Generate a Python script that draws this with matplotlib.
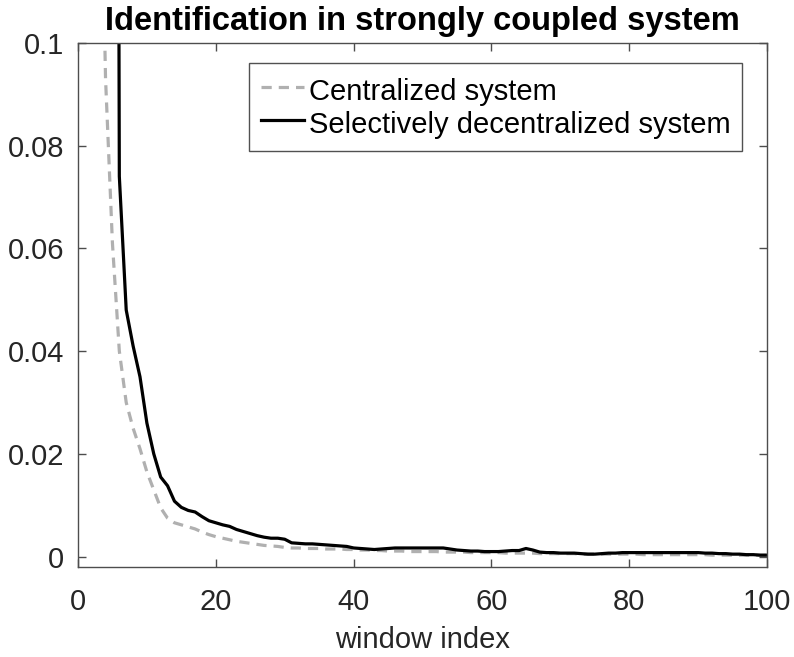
import matplotlib
matplotlib.use("Agg")
import matplotlib.pyplot as plt
from matplotlib.ticker import FuncFormatter

plt.rcParams['font.family'] = ['Liberation Sans', 'DejaVu Sans']

window = list(range(1, 101))

centralized = [
    0.90, 0.45, 0.16, 0.093, 0.061, 0.040, 0.030, 0.025, 0.021, 0.0165,
    0.013, 0.0095, 0.0075, 0.0066, 0.0062, 0.0058, 0.0054, 0.0048, 0.0043, 0.0039,
    0.0036, 0.0033, 0.0030, 0.0028, 0.0026, 0.0024, 0.0022, 0.0021, 0.0020, 0.0018,
    0.0017, 0.0017, 0.0016, 0.0016, 0.0016, 0.0015, 0.0015, 0.0015, 0.0014, 0.0014,
    0.0013, 0.0013, 0.0012, 0.0012, 0.0011, 0.0011, 0.0011, 0.0010, 0.0010, 0.0010,
    0.0010, 0.0010, 0.0009, 0.0009, 0.0009, 0.0009, 0.0008, 0.0008, 0.0008, 0.0008,
    0.0008, 0.0007, 0.0007, 0.0007, 0.0007, 0.0007, 0.0006, 0.0006, 0.0006, 0.0006,
    0.0006, 0.0006, 0.0005, 0.0005, 0.0005, 0.0005, 0.0005, 0.0005, 0.0005, 0.0005,
    0.0005, 0.0004, 0.0004, 0.0004, 0.0004, 0.0004, 0.0004, 0.0004, 0.0004, 0.0004,
    0.0004, 0.0003, 0.0003, 0.0003, 0.0003, 0.0003, 0.0003, 0.0003, 0.0003, 0.0003,
]

decentralized = [
    2.0, 1.2, 0.9, 0.75, 0.60, 0.074, 0.048, 0.041, 0.035, 0.026,
    0.020, 0.0155, 0.0138, 0.0108, 0.0096, 0.0090, 0.0087, 0.0078, 0.0070, 0.0066,
    0.0062, 0.0059, 0.0053, 0.0049, 0.0045, 0.0041, 0.0038, 0.0036, 0.0036, 0.0034,
    0.0027, 0.0026, 0.0025, 0.0025, 0.0024, 0.0023, 0.0022, 0.0021, 0.0020, 0.0017,
    0.0016, 0.0015, 0.0014, 0.0015, 0.0016, 0.0017, 0.0017, 0.0017, 0.0017, 0.0017,
    0.0017, 0.0017, 0.0017, 0.0015, 0.0013, 0.0012, 0.0011, 0.0011, 0.0010, 0.0010,
    0.0010, 0.0011, 0.0012, 0.0012, 0.0016, 0.0013, 0.0009, 0.0008, 0.0008, 0.0007,
    0.0007, 0.0007, 0.0006, 0.0005, 0.0005, 0.0006, 0.0007, 0.0007, 0.0008, 0.0008,
    0.0008, 0.0008, 0.0008, 0.0008, 0.0008, 0.0008, 0.0008, 0.0008, 0.0008, 0.0008,
    0.0007, 0.0007, 0.0006, 0.0006, 0.0005, 0.0005, 0.0004, 0.0004, 0.0003, 0.0003,
]

x_ticks = [0, 20, 40, 60, 80, 100]
y_ticks = [0, 0.02, 0.04, 0.06, 0.08, 0.1]

fig = plt.figure(figsize=(7.94, 6.57), dpi=100)
ax = fig.add_axes([0.0982, 0.137, 0.868, 0.798])

ax.plot(window, centralized, linestyle=(0, (3.2, 2.2)), color='#b0b0b0', lw=2.3,
        label='Centralized system')
ax.plot(window, decentralized, color='black', lw=2.3,
        label='Selectively decentralized system')

ax.set_xlim(0, 100)
ax.set_ylim(-0.002, 0.1)
ax.set_xticks(x_ticks)
ax.set_yticks(y_ticks)
ax.yaxis.set_major_formatter(FuncFormatter(lambda v, p: '0' if abs(v) < 1e-12 else f'{v:g}'))

spine_col = '#4d4d4d'
for s in ax.spines.values():
    s.set_color(spine_col)
    s.set_linewidth(1.0)
ax.tick_params(direction='in', length=6, width=1.0, color=spine_col,
               labelsize=21, labelcolor='#262626', top=True, right=True)
ax.tick_params(axis='x', pad=15)
ax.tick_params(axis='y', pad=10)

ax.set_xlabel('window index', fontsize=21, color='#262626', labelpad=7)
ax.set_title('Identification in strongly coupled system', fontsize=23.5,
             fontweight='bold', color='black', pad=9)

leg = ax.legend(loc='upper right', bbox_to_anchor=(0.9637, 0.9618),
                fontsize=21, frameon=True, fancybox=False,
                edgecolor='#262626', handlelength=1.5, handletextpad=0.15,
                handleheight=1.3, borderpad=0.4, labelspacing=0.05,
                borderaxespad=0.0)
leg.get_frame().set_linewidth(1.0)

fig.savefig('out.png', dpi=100)
